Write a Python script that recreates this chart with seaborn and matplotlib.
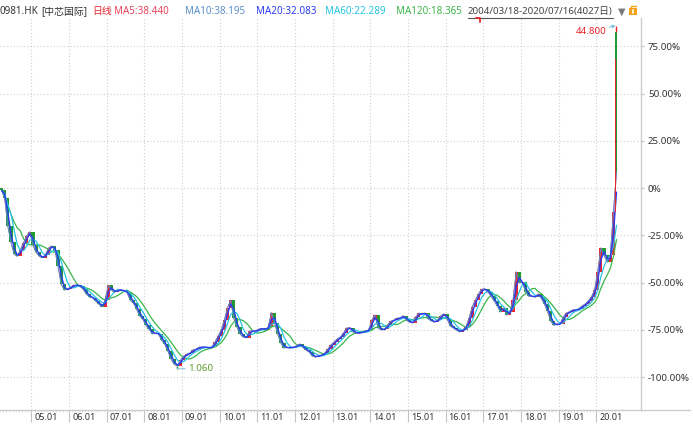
import numpy as np
import pandas as pd
import matplotlib
matplotlib.use("Agg")
import matplotlib.pyplot as plt
import matplotlib.transforms as mtrans
from matplotlib.lines import Line2D
from matplotlib.patches import Rectangle
import seaborn as sns

# --- data (HK$) ---
first_close = 24.1          # 2004/03/18, the 0% line
# month-end closes, Mar 2004 .. Jun 2020
monthly_close = [
    23.8, 22.8, 19.25, 17.2, 15.7, 15.4, 16.2, 17.1, 18.0, 18.5,                 # 2004
    16.8, 15.9, 15.4, 15.2, 15.6, 16.45, 16.7, 16.2, 14.15, 11.85, 11.1, 11.2,   # 2005
    11.45, 11.7, 11.7, 11.6, 11.2, 10.6, 10.2, 10.1, 9.7, 9.3, 8.95, 9.8,        # 2006
    11.7, 11.1, 10.8, 11.1, 11.1, 10.95, 10.8, 9.8, 9.45, 8.7, 7.8, 7.4,         # 2007
    6.6, 6.1, 5.5, 5.6, 5.5, 4.7, 4.2, 3.3, 2.3, 1.65, 1.4, 2.15,                # 2008
    2.65, 2.9, 3.05, 3.45, 3.55, 3.8, 3.8, 3.8, 3.7, 3.8, 4.45, 5.2,             # 2009
    6.0, 7.25, 8.8, 9.8, 7.5, 6.4, 5.5, 5.1, 5.0, 5.85, 5.85, 5.85,              # 2010
    6.1, 6.2, 6.0, 6.4, 8.2, 6.9, 5.5, 4.35, 3.7, 3.8, 3.7, 3.8,                 # 2011
    3.95, 4.2, 3.8, 3.45, 3.2, 2.7, 2.55, 2.7, 2.8, 3.05, 3.55, 4.1,             # 2012
    4.45, 4.85, 5.1, 5.6, 6.25, 6.25, 5.75, 5.6, 5.6, 5.75, 5.85, 6.0,           # 2013
    7.25, 7.9, 6.25, 6.0, 6.1, 6.6, 7.1, 7.25, 7.5, 7.5, 7.8, 7.25,              # 2014
    7.0, 6.9, 7.65, 8.15, 8.0, 8.15, 7.4, 7.15, 7.0, 7.25, 7.8, 8.05,            # 2015
    7.4, 6.5, 6.25, 6.0, 5.75, 6.0, 6.4, 7.5, 8.95, 9.8, 10.6, 11.2,             # 2016
    11.2, 10.85, 10.3, 9.7, 9.05, 8.3, 8.8, 7.9, 8.3, 9.8, 13.4, 12.0,           # 2017
    12.1, 10.85, 10.3, 10.3, 10.2, 10.6, 10.05, 9.3, 8.4, 7.15, 6.6, 6.75,       # 2018
    6.75, 7.65, 8.15, 8.3, 8.55, 8.55, 8.7, 9.05, 9.3, 9.7, 10.2, 11.1,          # 2019
    13.4, 16.45, 15.55, 14.65, 15.55, 21.05,                                     # 2020
]
# daily closes of the July 2020 spike
july_days = ["07/02", "07/03", "07/06", "07/07", "07/08", "07/09",
             "07/10", "07/13", "07/14", "07/15", "07/16"]
july_close = [23.0, 27.5, 34.5, 40.0, 42.3, 44.0, 40.5, 42.6, 39.0, 44.0, 26.1]
july_trading_days = 22
peak_high = 44.8
peak_day = "07/09"
trough_low = 1.06

year_labels = ["05.01", "06.01", "07.01", "08.01", "09.01", "10.01", "11.01", "12.01",
               "13.01", "14.01", "15.01", "16.01", "17.01", "18.01", "19.01", "20.01"]
pct_ticks = [75, 50, 25, 0, -25, -50, -75, -100]
header_items = [
    ("0981.HK", "#333333"), ("[中芯国际]", "#333333"), ("日线", "#e3262d"),
    ("MA5:38.440", "#e8445a"), ("MA10:38.195", "#5a8fc9"), ("MA20:32.083", "#2b3df2"),
    ("MA60:22.289", "#27c3e3"), ("MA120:18.365", "#3bb54a"),
]
date_range = "2004/03/18-2020/07/16(4027日)"

RED, GREEN = "#e8262d", "#1f9b30"
C_MA5, C_MA10, C_MA20, C_MA60, C_MA120 = "#e8445a", "#5a8fc9", "#2b3df2", "#27c3e3", "#3bb54a"


def pct(p):
    return (np.asarray(p, dtype=float) / first_close - 1.0) * 100.0


sns.set_theme(style="white")
plt.rcParams["font.family"] = ["Noto Sans", "Noto Sans CJK SC", "DejaVu Sans"]

W, H = 693, 426
fig = plt.figure(figsize=(W / 100, H / 100), dpi=100)
fig.patch.set_facecolor("white")
ax = fig.add_axes([0, (H - 410) / H, 641 / W, (410 - 18) / H])
ax.set_facecolor("white")

# --- candles: monthly bars, then the July 2020 days ---
n = len(monthly_close)
mx = np.arange(n, dtype=float)
m_open = [first_close] + monthly_close[:-1]
m_col = [RED if c >= o else GREEN for o, c in zip(m_open, monthly_close)]
ax.bar(mx, pct(monthly_close) - pct(m_open), bottom=pct(m_open), width=1.0,
       color=m_col, linewidth=0, zorder=3)

jx = n - 0.5 + (np.arange(len(july_close)) + 0.5) / july_trading_days
j_open = [monthly_close[-1]] + july_close[:-1]
j_col = [RED if c >= o else GREEN for o, c in zip(j_open, july_close)]
ax.bar(jx, pct(july_close) - pct(j_open), bottom=pct(j_open), width=0.3,
       color=j_col, linewidth=0, zorder=6)
pk = july_days.index(peak_day)
ax.vlines(jx[pk], pct(max(j_open[pk], july_close[pk])), pct(peak_high), color=RED, lw=1, zorder=6)
tr = int(np.argmin(monthly_close))
ax.vlines(mx[tr], pct(trough_low), pct(min(m_open[tr], monthly_close[tr])), color=GREEN, lw=1, zorder=3)

# --- moving averages (monthly samples, windows scaled to months) ---
ms = pd.Series(monthly_close + [july_close[-1]])
df_ma = pd.DataFrame({
    "x": np.r_[mx, jx[-1]],
    "ma10": ms.values,
    "ma20": ms.rolling(2, min_periods=1).mean().values,
    "ma60": ms.rolling(4, min_periods=1).mean().values,
    "ma120": ms.rolling(7, min_periods=1).mean().values,
})

sns.lineplot(x=df_ma["x"], y=pct(df_ma["ma120"]), ax=ax, color=C_MA120, lw=0.9, estimator=None, sort=False, zorder=4)
sns.lineplot(x=df_ma["x"], y=pct(df_ma["ma60"]), ax=ax, color=C_MA60, lw=0.9, estimator=None, sort=False, zorder=4)
sns.lineplot(x=df_ma["x"], y=pct(df_ma["ma10"]), ax=ax, color=C_MA5, lw=0.6, estimator=None, sort=False, zorder=2)
sns.lineplot(x=df_ma["x"], y=pct(df_ma["ma10"]), ax=ax, color=C_MA10, lw=0.7, estimator=None, sort=False, zorder=4)
sns.lineplot(x=df_ma["x"], y=pct(df_ma["ma20"]), ax=ax, color=C_MA20, lw=1.0, estimator=None, sort=False, zorder=5)

# --- max / min labels ---
ax.annotate(f"{peak_high:.3f}", xy=(jx[pk], pct(peak_high)), xytext=(-7, -4),
            textcoords="offset points", ha="right", va="center", fontsize=7, color=RED,
            arrowprops=dict(arrowstyle="->", color="#7fc4dd", lw=0.8, mutation_scale=5,
                            shrinkA=0, shrinkB=0), zorder=7)
ax.annotate(f"{trough_low:.3f}", xy=(mx[tr], pct(trough_low)), xytext=(8, 0),
            textcoords="offset points", ha="left", va="center", fontsize=7, color="#5f9b2f",
            arrowprops=dict(arrowstyle="-", color="#8cc6e0", lw=0.8, shrinkA=0, shrinkB=0), zorder=7)

# --- axes ---
ax.set_xlim(0.29, 203.78)
ax.set_ylim(-117.46, 89.95)
jan_idx = [i for i in range(n) if (i + 2) % 12 == 0]
year_pos = [i - 0.5 for i in jan_idx]
ax.set_xticks(year_pos)
ax.set_xticklabels([])
ax.set_xticks(np.arange(n + 1) - 0.5, minor=True)
ax.tick_params(axis="x", which="major", direction="out", length=8.6, width=0.8, color="#c4c4c4", bottom=True)
ax.tick_params(axis="x", which="minor", direction="out", length=1.6, width=0.5, color="#d4d4d4", bottom=True)
xtrans = mtrans.offset_copy(ax.get_xaxis_transform(), fig=fig, x=3, y=-3, units="dots")
for pos, lab in zip(year_pos, year_labels):
    ax.text(pos, 0, lab, transform=xtrans, ha="left", va="top", fontsize=6.5, color="#333333")

ax.yaxis.tick_right()
ax.set_yticks(pct_ticks)
ax.set_yticklabels(["0%" if v == 0 else f"{v:.2f}%" for v in pct_ticks])
ax.tick_params(axis="y", which="major", right=True, left=False, direction="out", length=2.5,
               width=0.8, color="#c4c4c4", pad=2.5, labelsize=7, labelcolor="#333333")
ax.set_xlabel("")
ax.set_ylabel("")
ax.grid(True, which="major", axis="both", linestyle=(0, (1, 2)), color="#cfcfcf", lw=0.8)
for side in ["left", "top"]:
    ax.spines[side].set_visible(False)
for side in ["right", "bottom"]:
    ax.spines[side].set_color("#cccccc")
    ax.spines[side].set_linewidth(1)


def fx(px):
    return px / W


def fy(py):
    return 1 - py / H


# bottom line continues under the price scale
fig.add_artist(Line2D([fx(641), fx(690)], [fy(410), fy(410)], color="#cccccc", lw=1))

# --- header ---
header_x = [0, 41, 92, 114, 185, 256, 325, 396]
for (txt, col), px in zip(header_items, header_x):
    fig.text(fx(px), fy(11.5), txt, color=col, fontsize=7.1, ha="left", va="center")
fig.text(fx(468), fy(11.5), date_range, color="#444444", fontsize=7.0, ha="left", va="center")
fig.add_artist(Line2D([fx(468), fx(613)], [fy(17.5), fy(17.5)], color="#555555", lw=0.8))
fig.text(fx(618), fy(11.5), "▼", color="#7a7a7a", fontsize=7, ha="left", va="center",
         family=["DejaVu Sans"])
fig.add_artist(Rectangle((fx(629), fy(15)), 8 / W, 7 / H, transform=fig.transFigure,
                         facecolor="#f2a31b", edgecolor="none"))
fig.add_artist(Line2D([fx(633), fx(633)], [fy(10), fy(12.5)], color="white", lw=1.2))
fig.add_artist(Line2D([fx(631), fx(631), fx(636)], [fy(8), fy(5.5), fy(5.5)], color="#f2a31b", lw=1))
# small red event flag above the chart
fig.add_artist(Line2D([fx(476), fx(480), fx(480)], [fy(18), fy(18), fy(22)], color="#e3262d", lw=1.3))

fig.savefig("out.png", dpi=100, facecolor="white")
